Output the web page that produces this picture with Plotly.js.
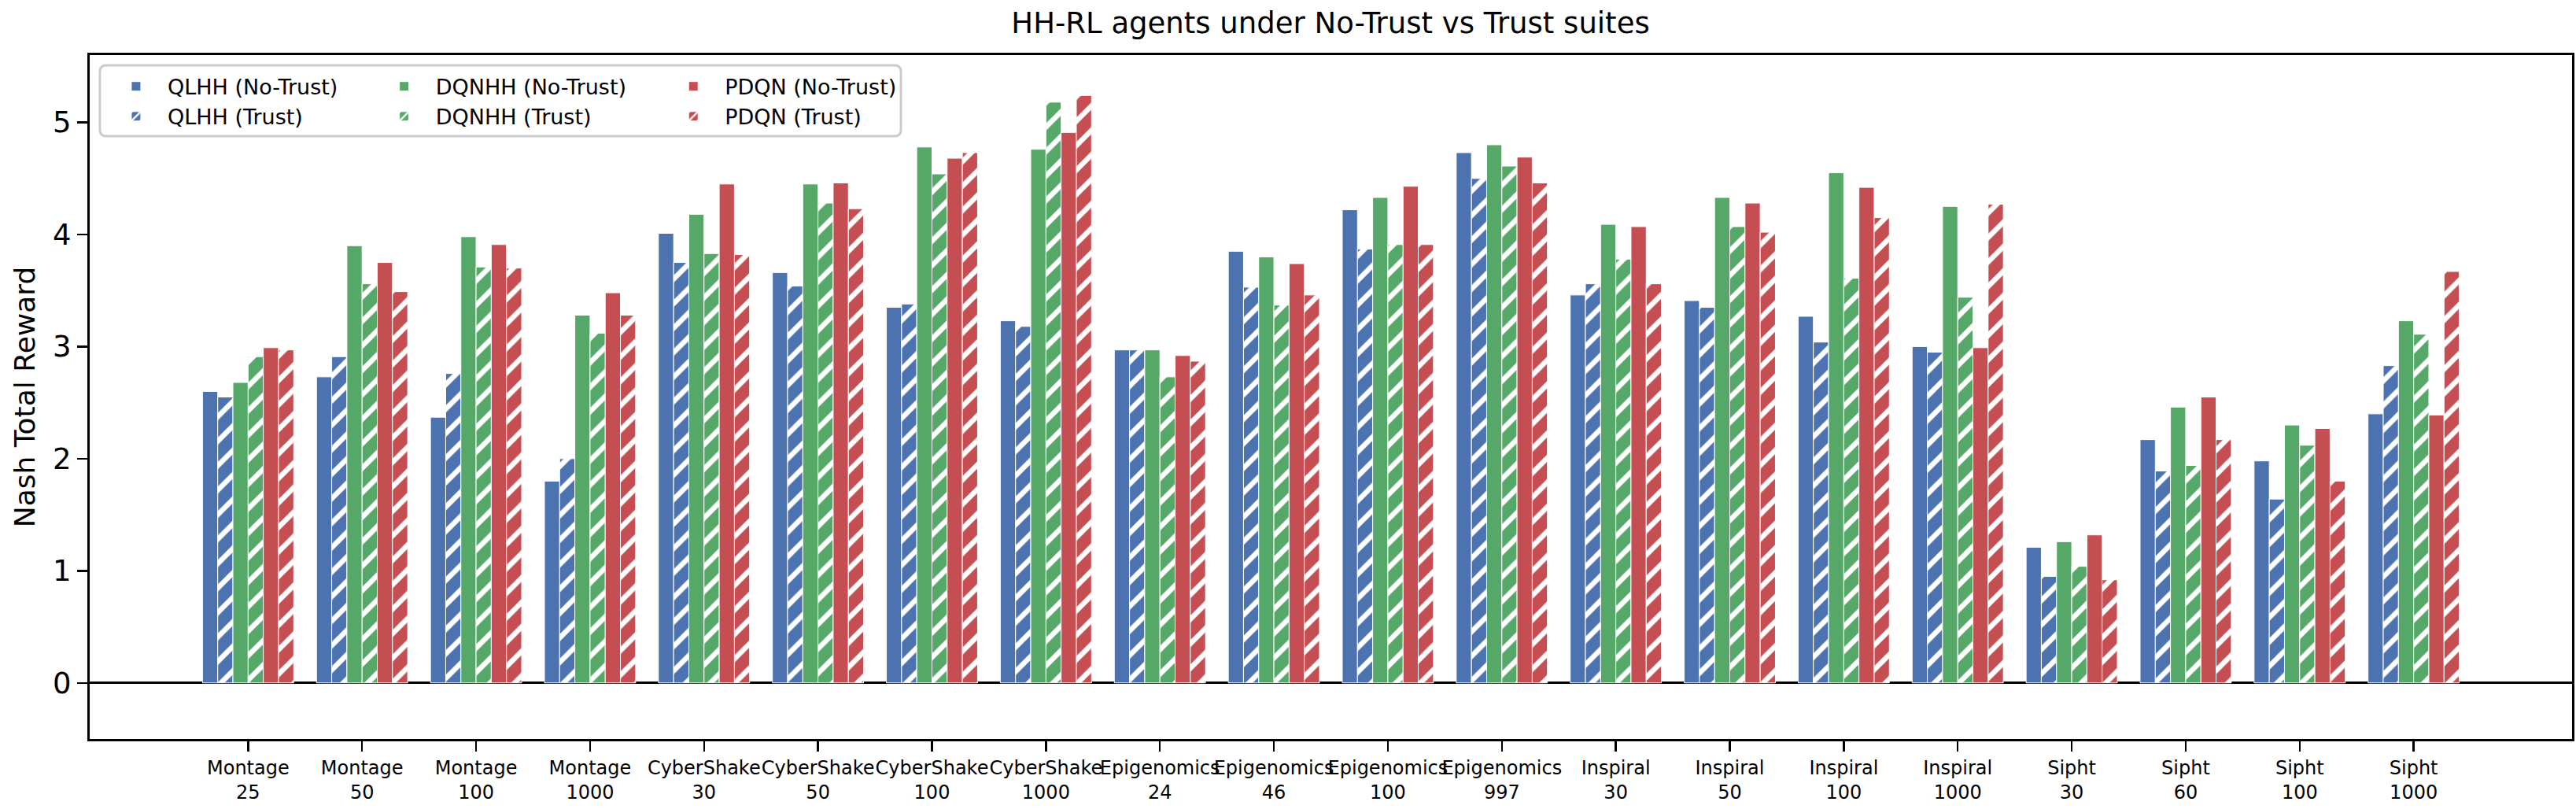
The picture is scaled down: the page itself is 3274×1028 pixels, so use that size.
<!DOCTYPE html>
<html>
<head>
<meta charset="utf-8">
<script src="https://cdn.plot.ly/plotly-3.0.1.min.js"></script>
<style>
  html, body { margin: 0; padding: 0; background: #fff; }
  #chart { width: 3274px; height: 1028px; }
</style>
</head>
<body>
<div id="chart"></div>
<script>
// workflow suites and sizes (x categories)
let SUITES = ["Montage", "Montage", "Montage", "Montage",
    "CyberShake", "CyberShake", "CyberShake", "CyberShake",
    "Epigenomics", "Epigenomics", "Epigenomics", "Epigenomics",
    "Inspiral", "Inspiral", "Inspiral", "Inspiral",
    "Sipht", "Sipht", "Sipht", "Sipht"];
let SIZES = ["25", "50", "100", "1000", "30", "50", "100", "1000",
    "24", "46", "100", "997", "30", "50", "100", "1000",
    "30", "60", "100", "1000"];

// Nash total reward
let qlhhNoTrust  = [2.60, 2.73, 2.37, 1.80, 4.01, 3.66, 3.35, 3.23, 2.97, 3.85, 4.22, 4.73, 3.46, 3.41, 3.27, 3.00, 1.21, 2.17, 1.98, 2.40];
let qlhhTrust    = [2.55, 2.91, 2.76, 2.00, 3.75, 3.54, 3.38, 3.18, 2.97, 3.53, 3.87, 4.50, 3.56, 3.35, 3.04, 2.95, 0.95, 1.89, 1.64, 2.83];
let dqnhhNoTrust = [2.68, 3.90, 3.98, 3.28, 4.18, 4.45, 4.78, 4.76, 2.97, 3.80, 4.33, 4.80, 4.09, 4.33, 4.55, 4.25, 1.26, 2.46, 2.30, 3.23];
let dqnhhTrust   = [2.91, 3.56, 3.71, 3.12, 3.83, 4.28, 4.54, 5.18, 2.73, 3.37, 3.91, 4.61, 3.78, 4.07, 3.61, 3.44, 1.04, 1.94, 2.12, 3.11];
let pdqnNoTrust  = [2.99, 3.75, 3.91, 3.48, 4.45, 4.46, 4.68, 4.91, 2.92, 3.74, 4.43, 4.69, 4.07, 4.28, 4.42, 2.99, 1.32, 2.55, 2.27, 2.39];
let pdqnTrust    = [2.97, 3.49, 3.70, 3.28, 3.82, 4.23, 4.73, 5.24, 2.87, 3.46, 3.91, 4.46, 3.56, 4.02, 4.15, 4.27, 0.92, 2.17, 1.80, 3.67];

let COLORS = { QLHH: "#4C72B0", DQNHH: "#55A868", PDQN: "#C44E52" };
let FONT = "DejaVu Sans, sans-serif";

let xLabels = SUITES.map((s, i) => s + "<br>" + SIZES[i]);

function makeBar(agent, values, trust, legendName, rank) {
    let marker = {
        color: COLORS[agent],
        line: { color: "white", width: 1 }
    };
    if (trust) {
        // white '//' hatch like matplotlib
        marker.pattern = {
            shape: "/",
            fillmode: "overlay",
            fgcolor: "white",
            fgopacity: 1,
            bgcolor: COLORS[agent],
            size: 22,
            solidity: 0.3
        };
    }
    return {
        type: "bar",
        x: xLabels,
        y: values,
        name: agent + (trust ? " (Trust)" : " (No-Trust)"),
        marker: marker,
        legend: legendName,
        legendrank: rank,
        hoverinfo: "x+y+name"
    };
}

let traces = [
    makeBar("QLHH", qlhhNoTrust, false, "legend", 1),
    makeBar("QLHH", qlhhTrust, true, "legend", 2),
    makeBar("DQNHH", dqnhhNoTrust, false, "legend2", 1),
    makeBar("DQNHH", dqnhhTrust, true, "legend2", 2),
    makeBar("PDQN", pdqnNoTrust, false, "legend3", 1),
    makeBar("PDQN", pdqnTrust, true, "legend3", 2)
];

function legendAt(x) {
    return {
        x: x, y: 0.982, xref: "paper", yref: "paper",
        xanchor: "left", yanchor: "top",
        orientation: "v",
        bgcolor: "rgba(0,0,0,0)",
        borderwidth: 0,
        itemwidth: 70,
        tracegroupgap: 0,
        font: { family: FONT, size: 27, color: "black" }
    };
}

// rounded legend frame in paper units (radius ~8px)
let fx0 = 0.0041, fx1 = 0.3268, fy0 = 0.8815, fy1 = 0.985;
let rx = 8 / 3155, ry = 8 / 869;
let framePath = "M" + (fx0 + rx) + "," + fy1 +
    " L" + (fx1 - rx) + "," + fy1 + " Q" + fx1 + "," + fy1 + " " + fx1 + "," + (fy1 - ry) +
    " L" + fx1 + "," + (fy0 + ry) + " Q" + fx1 + "," + fy0 + " " + (fx1 - rx) + "," + fy0 +
    " L" + (fx0 + rx) + "," + fy0 + " Q" + fx0 + "," + fy0 + " " + fx0 + "," + (fy0 + ry) +
    " L" + fx0 + "," + (fy1 - ry) + " Q" + fx0 + "," + fy1 + " " + (fx0 + rx) + "," + fy1 + " Z";

let layout = {
    width: 3274,
    height: 1028,
    margin: { l: 114, r: 5, t: 70, b: 89 },
    paper_bgcolor: "white",
    plot_bgcolor: "white",
    font: { family: FONT, color: "black" },
    title: {
        text: "HH-RL agents under No-Trust vs Trust suites",
        font: { family: FONT, size: 37, color: "black" },
        x: 0.5165, xanchor: "center",
        y: 1, yref: "container", yanchor: "top",
        pad: { t: 16 }
    },
    barmode: "group",
    bargap: 0.2,
    bargroupgap: 0,
    showlegend: true,
    legend: legendAt(0.006),
    legend2: legendAt(0.114),
    legend3: legendAt(0.2305),
    xaxis: {
        type: "category",
        range: [-1.39, 20.39],
        showline: true, linecolor: "black", linewidth: 3, mirror: true,
        ticks: "outside", ticklen: 13, tickwidth: 2.5, tickcolor: "black",
        tickfont: { family: FONT, size: 24, color: "black" },
        tickangle: 0,
        showgrid: false,
        zeroline: false
    },
    yaxis: {
        range: [-0.5, 5.6],
        tickvals: [0, 1, 2, 3, 4, 5],
        showline: true, linecolor: "black", linewidth: 3, mirror: true,
        ticks: "outside", ticklen: 13, tickwidth: 2.5, tickcolor: "black",
        tickfont: { family: FONT, size: 37, color: "black" },
        showgrid: false,
        zeroline: true, zerolinecolor: "black", zerolinewidth: 3,
        title: {
            text: "Nash Total Reward",
            font: { family: FONT, size: 36, color: "black" },
            standoff: 12
        }
    },
    shapes: [
        {
            type: "path", xref: "paper", yref: "paper",
            path: framePath,
            line: { color: "#cccccc", width: 3 },
            fillcolor: "rgba(255,255,255,0.8)",
            layer: "above"
        }
    ]
};

Plotly.newPlot("chart", traces, layout, { displayModeBar: false, staticPlot: true });
</script>
</body>
</html>
